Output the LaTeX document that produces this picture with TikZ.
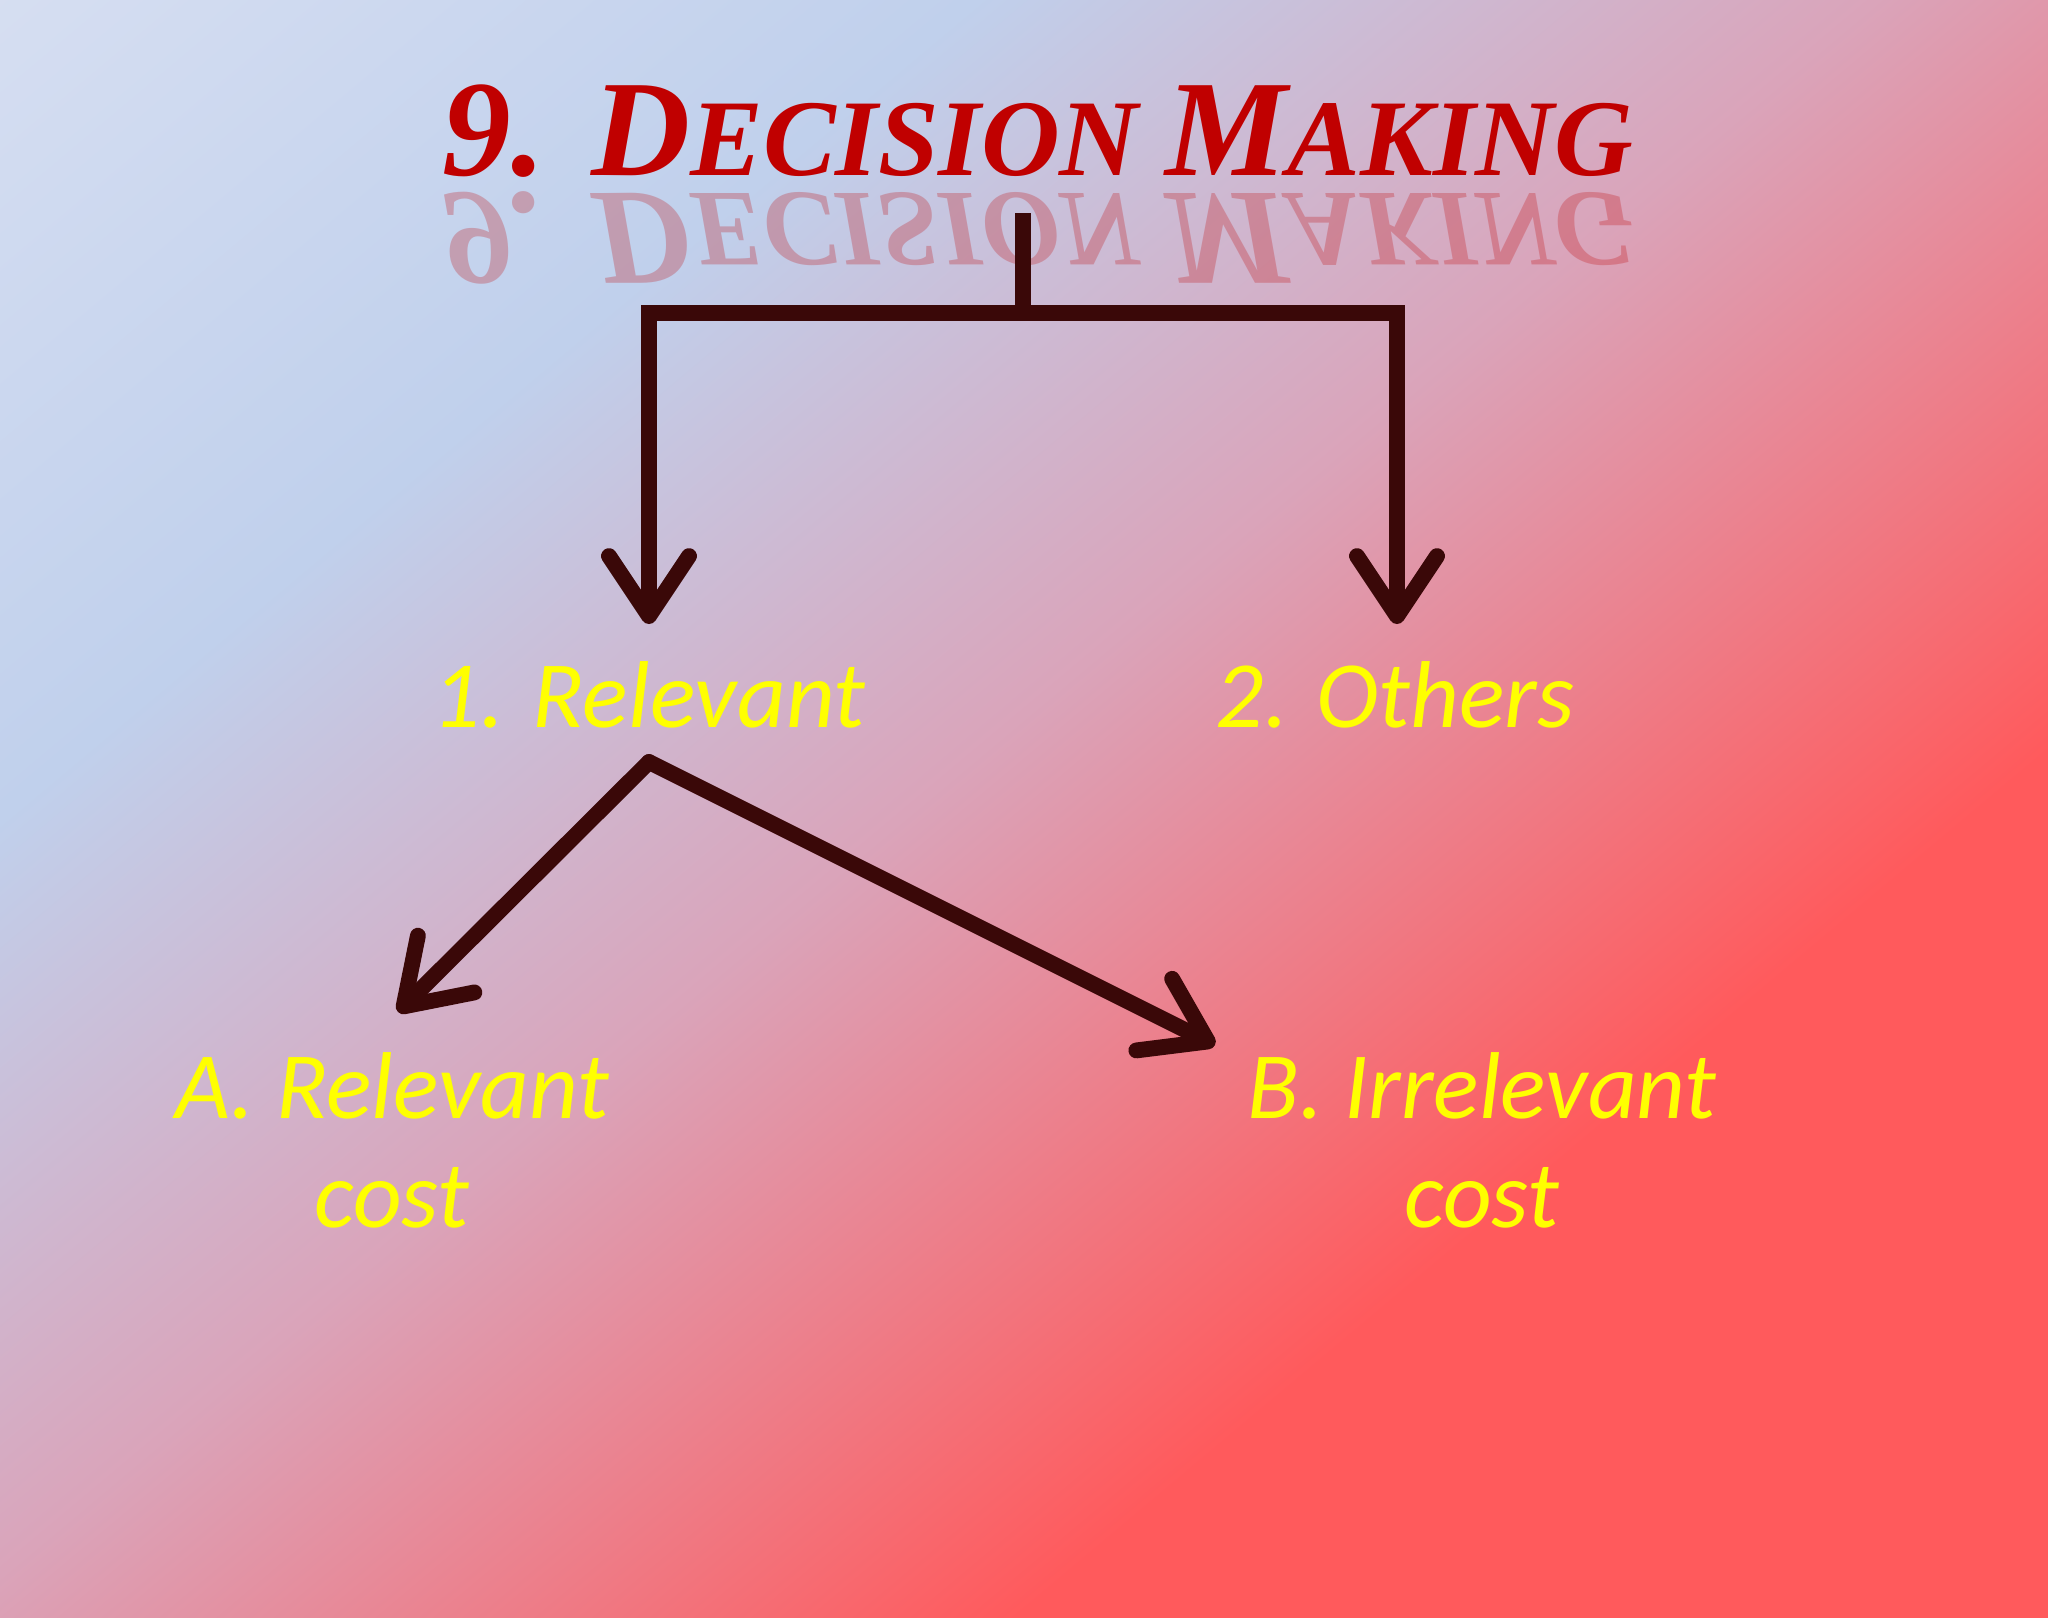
\documentclass[tikz,border=0pt]{standalone}
\usepackage{fontspec}
\usetikzlibrary{arrows.meta}
\newfontfamily\yfont{Carlito}
\newfontfamily\tfont{Liberation Serif}
\definecolor{lav}{HTML}{E8EAF6}
\definecolor{blu}{HTML}{C0D0EC}
\definecolor{pnk}{HTML}{DAA4BA}
\definecolor{rd}{HTML}{FF5A5C}
\definecolor{arr}{HTML}{3A0808}
\definecolor{ttl}{HTML}{C00000}
\definecolor{ylw}{HTML}{FFFF00}
\pgfdeclareverticalshading{bgsh}{100bp}{color(0bp)=(rd); color(33bp)=(rd); color(52bp)=(pnk); color(68bp)=(blu); color(100bp)=(lav)}
\tikzset{
  conn/.style={draw=arr, line width=4.5pt, line cap=round, -{Straight Barb[length=0.6cm,width=0.8cm,line width=4.5pt,round]}},
  lbl/.style={font=\yfont\itshape\fontsize{27}{31}\selectfont, text=ylw, align=center, inner sep=0pt},
  ttl/.style={font=\tfont\bfseries\itshape, text=ttl, inner sep=0pt}
}
\begin{document}
\begin{tikzpicture}[x=0.01cm,y=-0.01cm]
\useasboundingbox (0,0) rectangle (2048,1618);
\shade[shading=bgsh, shading angle=40] (0,0) rectangle (2048,1618);
\node[ttl] (title) at (1038,131) {\fontsize{39}{39}\selectfont 9. D\fontsize{31}{31}\selectfont ECISION \fontsize{39}{39}\selectfont M\fontsize{31}{31}\selectfont AKING};
\node[ttl, yscale=-1, opacity=0.25] (refl) at (1038,238) {\fontsize{39}{39}\selectfont 9. D\fontsize{31}{31}\selectfont ECISION \fontsize{39}{39}\selectfont M\fontsize{31}{31}\selectfont AKING};
\coordinate (top) at (1023,213);
\coordinate (j) at (1023,313);
\coordinate (jl) at (649,313);
\coordinate (jr) at (1397,313);
\node[lbl] (rel) at (649,695) {1. Relevant};
\node[lbl] (oth) at (1395,695) {2. Others};
\node[lbl] (a) at (392,1140) {A. Relevant\\cost};
\node[lbl] (b) at (1482,1140) {B. Irrelevant\\cost};
\coordinate (rs) at (649,762);
\draw[draw=arr, line width=4.5pt] (top) -- (j);
\draw[draw=arr, line width=4.5pt, line cap=rect] (jl) -- (jr);
\draw[conn] (jl) -- (649,624);
\draw[conn] (jr) -- (1397,624);
\draw[conn] (rs) -- (398,1012);
\draw[conn] (rs) -- (1215,1045);
\end{tikzpicture}
\end{document}
